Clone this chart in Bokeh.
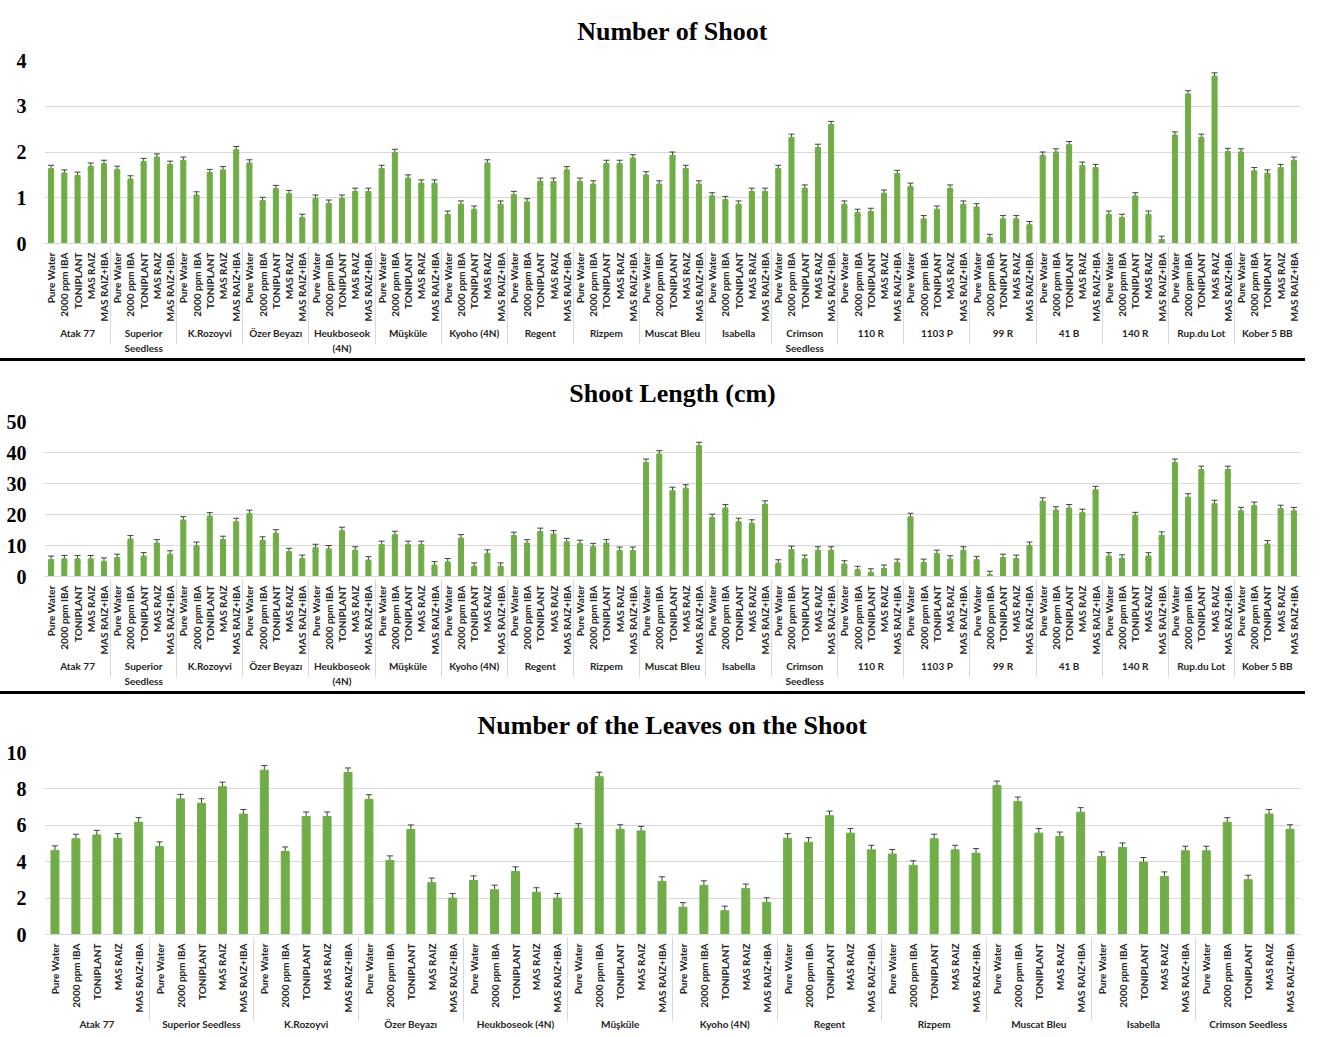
import math
from bokeh.plotting import figure
from bokeh.models import ColumnDataSource, FactorRange, Range1d, Whisker, TeeHead, Div, SingleIntervalTicker
from bokeh.layouts import column
from bokeh.embed import file_html
from bokeh.resources import INLINE

treatments = ["Pure Water", "2000 ppm IBA", "TONIPLANT", "MAS RAIZ", "MAS RAIZ+IBA"]

cultivars = ["Atak 77", "Superior\nSeedless", "K.Rozoyvi", "Özer Beyazı", "Heukboseok\n(4N)",
             "Müşküle", "Kyoho (4N)", "Regent", "Rizpem", "Muscat Bleu", "Isabella",
             "Crimson\nSeedless", "110 R", "1103 P", "99 R", "41 B", "140 R", "Rup.du Lot",
             "Kober 5 BB"]

cultivars_leaves = ["Atak 77", "Superior Seedless", "K.Rozoyvi", "Özer Beyazı", "Heukboseok (4N)",
                    "Müşküle", "Kyoho (4N)", "Regent", "Rizpem", "Muscat Bleu", "Isabella",
                    "Crimson Seedless"]

shoot_number = [
    1.64, 1.54, 1.49, 1.69, 1.75,
    1.62, 1.41, 1.79, 1.89, 1.73,
    1.82, 1.06, 1.55, 1.61, 2.05,
    1.76, 0.94, 1.20, 1.09, 0.57,
    0.99, 0.88, 0.99, 1.14, 1.14,
    1.64, 1.99, 1.43, 1.32, 1.32,
    0.64, 0.86, 0.75, 1.76, 0.86,
    1.07, 0.91, 1.36, 1.36, 1.61,
    1.36, 1.30, 1.75, 1.75, 1.87,
    1.50, 1.30, 1.93, 1.64, 1.30,
    1.04, 0.96, 0.86, 1.14, 1.14,
    1.64, 2.32, 1.21, 2.10, 2.60,
    0.86, 0.68, 0.70, 1.10, 1.53,
    1.25, 0.54, 0.75, 1.21, 0.86,
    0.80, 0.13, 0.54, 0.54, 0.41,
    1.93, 2.00, 2.16, 1.71, 1.66,
    0.64, 0.57, 1.04, 0.64, 0.09,
    2.37, 3.27, 2.32, 3.66, 2.01,
    2.00, 1.59, 1.54, 1.66, 1.82,
]
shoot_number_se = 0.07

shoot_length = [
    5.5, 5.7, 5.7, 5.7, 4.9,
    6.1, 12.1, 6.6, 10.8, 7.2,
    18.2, 10.0, 19.5, 11.9, 17.7,
    20.3, 11.7, 14.0, 8.0, 5.8,
    9.3, 8.9, 14.8, 8.5, 5.3,
    10.3, 13.5, 10.3, 10.3, 3.7,
    4.7, 12.4, 3.3, 7.5, 3.3,
    13.2, 10.8, 14.5, 13.7, 11.2,
    10.6, 9.6, 10.8, 8.4, 8.4,
    36.8, 39.5, 27.7, 28.5, 42.2,
    19.0, 22.1, 17.7, 17.2, 23.3,
    4.3, 8.7, 5.8, 8.5, 8.5,
    4.0, 2.2, 1.4, 2.6, 4.5,
    19.3, 4.5, 7.4, 5.6, 8.5,
    5.4, 0.6, 6.1, 5.8, 10.0,
    24.3, 21.4, 22.1, 20.6, 28.0,
    6.6, 5.9, 19.6, 6.6, 13.3,
    36.8, 25.6, 34.5, 23.5, 34.5,
    21.2, 22.9, 10.5, 21.9, 21.2,
]
shoot_length_se = 1.1

leaves = [
    4.62, 5.26, 5.47, 5.29, 6.17,
    4.84, 7.45, 7.21, 8.12, 6.62,
    9.03, 4.56, 6.48, 6.48, 8.90,
    7.43, 4.07, 5.77, 2.85, 2.00,
    2.97, 2.46, 3.47, 2.32, 2.00,
    5.84, 8.67, 5.78, 5.69, 2.92,
    1.50, 2.70, 1.31, 2.52, 1.77,
    5.29, 5.07, 6.53, 5.57, 4.65,
    4.42, 3.80, 5.26, 4.65, 4.47,
    8.18, 7.30, 5.57, 5.38, 6.72,
    4.29, 4.78, 3.98, 3.19, 4.60,
    4.60, 6.17, 3.01, 6.62, 5.78,
]
leaves_se = 0.25

titles = ["Number of Shoot", "Shoot Length (cm)", "Number of the Leaves on the Shoot"]

BAR = "#70AD47"
ERR = "#404040"
GRID = "#D9D9D9"
SANS = "Lato"
SERIF = "Liberation Serif"


def make_panel(title, groups, values, se, ymax, ystep, frame_h, title_gap):
    factors = [(g, t) for g in groups for t in treatments]
    src = ColumnDataSource(dict(
        x=factors,
        top=values,
        upper=[v + se for v in values],
        lower=[v - se for v in values],
    ))
    p = figure(x_range=FactorRange(*factors, group_padding=0, factor_padding=0, range_padding=0),
               y_range=Range1d(0, ymax),
               frame_width=1256, frame_height=frame_h,
               min_border_left=44, min_border_right=5, min_border_top=0,
               min_border_bottom=2,
               output_backend="svg", toolbar_location=None, title=title)
    p.vbar(x="x", top="top", width=0.38, source=src, fill_color=BAR, line_color=BAR)
    w = Whisker(source=src, base="x", upper="upper", lower="lower",
                line_color=ERR, line_width=1,
                upper_head=TeeHead(size=6, line_color=ERR, line_width=1),
                lower_head=TeeHead(size=6, line_color=ERR, line_width=1))
    p.add_layout(w)

    p.title.align = "center"
    p.title.text_font = SERIF
    p.title.text_font_style = "bold"
    p.title.text_font_size = "26px"
    p.title.text_color = "black"
    p.title.standoff = title_gap

    p.outline_line_color = None
    p.xgrid.grid_line_color = None
    p.ygrid.grid_line_color = GRID
    p.ygrid.grid_line_width = 1

    p.yaxis.ticker = SingleIntervalTicker(interval=ystep)
    p.yaxis.axis_line_color = None
    p.yaxis.major_tick_line_color = None
    p.yaxis.minor_tick_line_color = None
    p.yaxis.major_label_text_font = SERIF
    p.yaxis.major_label_text_font_style = "bold"
    p.yaxis.major_label_text_font_size = "20px"
    p.yaxis.major_label_text_color = "black"
    p.yaxis.major_label_standoff = 12

    ax = p.xaxis[0]
    ax.axis_line_color = GRID
    ax.major_tick_line_color = None
    ax.minor_tick_line_color = None
    ax.major_label_orientation = math.pi / 2
    ax.major_label_text_font = SANS
    ax.major_label_text_font_style = "bold"
    ax.major_label_text_font_size = "10px"
    ax.major_label_text_color = "#262626"
    ax.major_label_standoff = 3
    ax.group_text_font = SANS
    ax.group_text_font_style = "bold"
    ax.group_text_font_size = "10px"
    ax.group_text_color = "#262626"
    ax.group_label_orientation = "horizontal"
    ax.separator_line_color = GRID
    ax.separator_line_width = 1
    return p


p1 = make_panel(titles[0], cultivars, shoot_number, shoot_number_se, 4, 1, 183, 29)
p2 = make_panel(titles[1], cultivars, shoot_length, shoot_length_se, 50, 10, 155, 27)
p3 = make_panel(titles[2], cultivars_leaves, leaves, leaves_se, 10, 2, 182, 25)

d1 = Div(width=1305, height=3, margin=(2, 0, 2, 0), styles={"background-color": "black"})
d2 = Div(width=1305, height=3, margin=(2, 0, 2, 0), styles={"background-color": "black"})

layout = column(p1, d1, p2, d2, p3, spacing=0)

open("out.html", "w").write(file_html(layout, INLINE))
